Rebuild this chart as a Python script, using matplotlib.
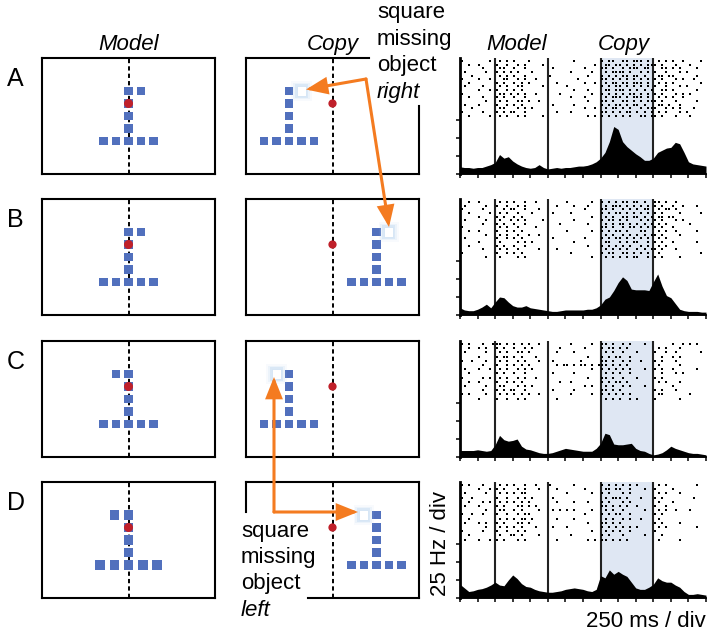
import matplotlib
matplotlib.use("Agg")
import matplotlib.pyplot as plt
from matplotlib.patches import Rectangle, Circle, FancyArrowPatch
import numpy as np

plt.rcParams['font.family'] = ['Liberation Sans', 'DejaVu Sans']

W, H = 714, 635

# ---------------- data ----------------
panel_letters = ["A", "B", "C", "D"]
model_flag_side = [1, 1, -1, -1]        # side of the extra top square in the model
copy_offset = [-3.5, 3.5, -3.5, 3.5]    # position of the copied object (grid units)
stem_rows = [0, 1, 2, 3]
base_cols = [-2, -1, 0, 1, 2]
base_row = 4
fix_row = 1

event_divs = [2, 5, 8, 11]
copy_window = [8, 11]
ytick_hz = [0, 25, 50, 75]

# firing rate (Hz), one value every 0.25 div (62.5 ms), 0..14 div
psth_A = [10, 9, 9, 8, 9, 9, 11, 13, 16, 27, 22, 24, 18, 14, 11, 9,
          8, 9, 13, 9, 7, 8, 9, 8, 9, 9, 10, 11, 11, 12, 14, 17,
          22, 30, 45, 66, 62, 45, 38, 33, 28, 24, 19, 19, 22, 30, 33, 36,
          37, 44, 42, 30, 17, 14, 13, 12, 11]
psth_B = [10, 7, 6, 6, 8, 11, 15, 10, 18, 25, 24, 18, 13, 11, 11, 13,
          10, 9, 8, 7, 6, 5, 5, 6, 7, 7, 7, 7, 7, 8, 8, 10,
          14, 22, 25, 34, 45, 53, 48, 36, 35, 35, 35, 34, 46, 57, 40, 27,
          24, 16, 8, 6, 5, 5, 5, 4, 4]
psth_C = [9, 9, 9, 9, 10, 9, 8, 9, 17, 30, 24, 22, 23, 25, 15, 11,
          10, 8, 6, 5, 5, 6, 8, 10, 12, 11, 10, 9, 8, 8, 8, 12,
          19, 33, 31, 18, 17, 17, 18, 19, 12, 9, 8, 5, 3, 4, 6, 10,
          15, 12, 10, 8, 6, 5, 5, 4, 3]
psth_D = [19, 14, 9, 10, 12, 13, 15, 18, 22, 18, 17, 25, 32, 27, 20, 16,
          15, 12, 10, 9, 8, 8, 9, 10, 12, 13, 14, 13, 12, 10, 9, 12,
          31, 28, 39, 33, 37, 33, 30, 22, 14, 12, 12, 15, 19, 28, 24, 22,
          22, 18, 15, 9, 5, 5, 6, 5, 4]

# spike rasters: one string per trial, 5 bins of 50 ms per div, 'x' = spike
raster_A = [
    "x.... ...x. .x.x. x...x ..... ..... ..x.. ..... x.xx. .xx.x xx.x. .x.x. x..x. ...x.",
    "..x.. x.... x..x. .x.x. ...x. ..... ..... ...x. .xx.x x.x.x .x.xx x.x.. .x... x....",
    "..... .x... .xx.. x..x. ..... .x... ..... x.... xx.x. .x.xx x.xx. ..xx. x.x.. ..x..",
    ".x... ..x.. x.x.x .x... x.... ..... .x... ..x.. .x.xx xx.x. .x.x. x..x. ..x.x .....",
    "...x. ..... .x.x. x..x. ..... x.... ..... .x... x.x.x .xx.x x.x.. .xx.x x.... ..x..",
    "x.... x..x. ..xx. .x.x. .x... ..... ...x. ..... xx.x. x.x.x .x.x. x.x.. .x.x. .x...",
    "..x.. ..... x.x.. x.x.x ..... ..x.. ..... x..x. .x.xx .xx.x xx.x. .x.x. x.... ...x.",
    ".x... .x... .x.x. .xx.. ...x. ..... x.... ..... x.x.x x.x.x .x.x. x..x. ..x.x .....",
    "..... x..x. x..x. x.x.. ..... ..... ..x.. .x... .xx.x xx.x. x.x.x ..xx. x.... ..x..",
    "x.... ..... .xx.x .x.x. .x... ...x. ..... ..x.. x.x.x .x.xx .x.x. x.x.. .x.x. x....",
    "..x.. .x... x.x.. x..x. ..... ..... .x... x.... .x.xx x.x.x xx.x. .x.x. x..x. .....",
    "..... ..x.. .x.x. .xx.x ..x.. ..... ..... .x... xx.x. .xx.x .x.xx x.x.. .x... ..x..",
    ".x... x.... x..x. x.x.. ..... .x... ..x.. ..... x.x.x x.x.x x.x.. .xx.x ..x.. .....",
    "...x. ..... .xx.. .x.x. x.... ..... ..... x..x. .x.xx .x.x. .x.xx x..x. x.x.. .x...",
    "x.... .x... x.x.x x..x. ..... ..x.. .x... ..... xx.x. x.xx. x.x.x .x.x. ..x.x .....",
    "..x.. ...x. .x.x. .x.x. ...x. ..... ..... .x.x. x.x.x .x.x. .xx.x x.x.. .x... x....",
]
raster_B = [
    "..x.. x.... .x.x. x..x. .x... ..... x.... ..x.. x.x.x .xx.x x.x.. xx.x. .x... .....",
    ".x... ..x.. x..x. .x.x. ..... ..x.. ..x.. .x... .x.xx x.x.x .x.x. x.x.. x..x. ..x..",
    "x.... .x... ..x.x x..x. ..x.. ..... ..... x.... xx.x. .x.x. x.xx. .x.xx .x... .....",
    "..x.. ...x. .x.x. .x... x.... .x... .x... ..... x.x.x x.x.x .x.x. x.x.. ..x.. ...x.",
    "..... x.... x.x.. x.x.. ..... ..... ..... ..x.. .x.x. .xx.x x.x.x .xx.x x.... .....",
    ".x... ..x.. .x..x .x.x. ...x. ..... ..x.. ..... x.xx. x.x.. .x.x. x.x.. .x.x. .....",
    "..... .x... x.x.. x..x. ..... ...x. ..... .x... .x.x. xx.x. x.x.x .x.x. ..... x....",
    "x.... ..... .x.x. .x... .x... ..... ..... ..... xx.x. .x.xx .x.x. x.x.. x.... .....",
    "..x.. x.... x..x. x.x.. ..... ..... x.... ..x.. x.x.x x.x.. .xx.. .x.x. .x... ..x..",
    "..... ..x.. .x.x. .x..x ..x.. ..... ..... ..... .x.x. .x.x. x.x.x x.x.. ..x.. .....",
    ".x... ..... x..x. x.x.. ..... .x... ..... x.... x.x.x x.x.x .x.x. .x.x. ..... .....",
    "..... x.... .x... .x.x. x.... ..... ..x.. ..... .xx.. x.x.x x..x. x.x.. x.... ..x..",
    "..x.. ..... x.x.. x..x. ..... ..... ..... .x... x.x.x .x.x. .x.x. .x.x. ..... .....",
    "..... .x... .x.x. .x... ..x.. ..x.. ..... ..... .x.x. x.x.. x.x.x x.x.. .x... .....",
    "x.... ..... x..x. x.x.. ..... ..... .x... ..... x.xx. .xx.x .x.x. .x... ..... ...x.",
    "..... ..x.. .x... .x.x. ..... ..... ..... ..x.. .x.x. x.x.x x..x. x.x.. ..x.. .....",
]
raster_C = [
    "x.x.. .x..x xx.x. x.x.x ..x.. ..... .x... ..x.. xx.x. .x.x. ..x.. ..... x..x. x.x..",
    "..x.. x.x.. x.x.. x..x. x.... ...x. ..... x.... x.xx. x.x.. ..... .x.x. ..x.. .....",
    ".x... ..x.. .x.x. .xx.x ..... ..x.. ..x.. ..... .x.x. .x... x.... x..x. .x... ...x.",
    "..... x.... x.xx. x.x.. .x... ..... ..... .x... x.x.x x..x. ..... ..x.. x.x.. .....",
    "x..x. ..x.. .x.x. .x.x. ..x.. .x... ....x ..... xx.x. .x.x. .x... x.x.. .x... .....",
    "..... .x... x..x. x.x.x ..... ..x.x x.x.x x.x.x xx.x. x.x.. ..... .x... ..x.. .....",
    ".x... x..x. .x.x. .x.x. x.... ..... ..... ..x.. x.x.x .x.x. ..x.. x.x.. x.... ..x..",
    "..x.. ..... x.x.. x..x. ..... .x... ..x.. ..... .x.x. x..x. ..... ..x.. .x.x. .....",
    "x.... .x.x. .x.x. .x.x. .x... ..... ..... .x... xx.x. .x... x.... x.x.. ..... .....",
    "..x.. x.... x..x. x.x.. ..... ...x. .x... ..... x.x.x x.x.. ..... .x.x. ..x.. .....",
    ".x... ..x.. .xx.. .x.x. x.... ..... ..... x.x.. .x.x. .x.x. ..x.. ..... x.... .....",
    "..... .x... x.x.x x..x. ..... .x... ..x.. ..... xx.x. x.... ..... x.x.. .x... .....",
    "x.x.. ..x.. .x.x. x.x.x ..x.. ..... .x... ..x.. x.x.x .x.x. ..... .xx.. ..... x....",
    "..... x.... x..x. .x.x. ..... ..x.. ..... ..... .x.x. x..x. x.... x.... ..x.. .....",
]
raster_D = [
    "x.x.. .x... .x.x. x..x. .x... x.... ..x.. ..... x.x.x .x.x. x.... .x.x. ..... ..x..",
    "..... x..x. x.x.. .x.x. ..x.. ..x.. ..... x.... .xx.x x..x. ..x.. x.... x.... .....",
    ".x... ..x.. .x.x. x.xx. ..... ..... x.... ..x.. x.x.. .x.x. ..... .x.x. ..x.. .....",
    "x..x. ..... x..x. .x.x. x.... .x... ..... ..... .x.xx x.x.. .x... x.x.. ..... .x...",
    "..x.. .x.x. .x.x. x.x.x ..... ..x.. ..x.. .x... x.x.. .x.x. ..... .x... x.... .....",
    ".x... x.... x.x.. .xx.x .x... ..... ..... ..... xx.x. x.x.. x.... x..x. ..... .....",
    "..... ..x.. .xx.. x.x.. ..x.. .x.x. x.x.. ..x.. .x.x. .x... ..x.. .x.x. .x... x....",
    "x..x. .x... x..x. .x.xx ..... ..... ..... x.... x.x.x x..x. ..... x.x.. ..... .....",
    "..x.. ..... .x.x. x.xx. x.... ..x.. ..x.. ..... .x.x. .x.x. .x... .x... ..... .....",
    ".x... x.x.. x.x.. .xx.x ..... ..... ..... .x... xx.x. x.... ..... x.x.. ..x.. .....",
    "..... ..x.. .x.x. x.x.. .x... .x... x.... ..... x.x.x .x.x. x.... .x.x. ..... ..x..",
    "x.... .x... x..x. .x.x. ..... ..... ..... ..x.. .x.x. x..x. ..... x.... ..... .....",
    "..x.. ..... .x..x x.x.. ..x.. ..... .x... ..... x.x.. .x... ..x.. ..x.. ..... .....",
    ".x... x..x. x.x.. .x.x. ..... ..x.. ..... .x.x. xx.x. x.x.. ..... .x... ..x.. .....",
]

psths = [psth_A, psth_B, psth_C, psth_D]
rasters = [raster_A, raster_B, raster_C, raster_D]

# ---------------- style ----------------
blue = "#5170bd"
red = "#c0202a"
orange = "#f47b20"
shade = "#dfe7f3"
fs = 16

fig = plt.figure(figsize=(W / 100, H / 100), dpi=100)


def px_axes(x0, top, w, h):
    return fig.add_axes([x0 / W, 1 - (top + h) / H, w / W, h / H])


tops = [58, 199, 341, 482]
box_h = 116
box_w = 173
model_x0, copy_x0 = 42, 246
unit = 12.5  # px per grid step
sq = 0.68


def setup_box(ax):
    ax.set_xlim(-box_w / 2 / unit, box_w / 2 / unit)
    ax.set_ylim((box_h - 33) / unit, -33 / unit)
    ax.axis("off")
    ax.axvline(0, color="black", lw=1.4, ls=(0, (2.2, 1.6)), zorder=1)


def frame(ax, segs):
    for (x0, y0), (x1, y1) in segs:
        ax.plot([x0, x1], [y0, y1], color="black", lw=1.5, transform=ax.transAxes,
                clip_on=False, solid_capstyle="projecting", zorder=5)


def square(ax, x, y, size, **kw):
    ax.add_patch(Rectangle((x - size / 2, y - size / 2), size, size, lw=0, zorder=3, **kw))


def missing(ax, x, y, size):
    for pad, a in [(0.45, 0.08), (0.3, 0.14), (0.16, 0.25)]:
        ax.add_patch(Rectangle((x - size / 2 - pad, y - size / 2 - pad), size + 2 * pad,
                               size + 2 * pad, fc="#a8cbee", ec="none", alpha=a, zorder=3))
    ax.add_patch(Rectangle((x - size / 2, y - size / 2), size, size, fc="white",
                           ec="#d3e4f5", lw=0.6, zorder=4))


full = [((0, 0), (1, 0)), ((1, 0), (1, 1)), ((1, 1), (0, 1)), ((0, 1), (0, 0))]

for i in range(4):
    side = model_flag_side[i]
    # model screen
    ax = px_axes(model_x0, tops[i], box_w, box_h)
    setup_box(ax)
    sx = 1.14 if i == 3 else 1.0
    s = 0.76 if i == 3 else sq
    for r in stem_rows:
        square(ax, 0, r, s, color=blue)
    for c in base_cols:
        square(ax, c * sx, base_row, s, color=blue)
    square(ax, side * sx, 0, s, color=blue)
    ax.add_patch(Circle((0, fix_row), 0.36, color=red, zorder=4, lw=0))
    frame(ax, full)

    # copy screen
    ax = px_axes(copy_x0, tops[i], box_w, box_h)
    setup_box(ax)
    cx = copy_offset[i]
    for r in stem_rows:
        square(ax, cx, r, sq, color=blue)
    for c in base_cols:
        square(ax, cx + c, base_row, sq, color=blue)
    missing(ax, cx + side, 0, 0.74)
    ax.add_patch(Circle((0, fix_row), 0.33, color=red, zorder=4, lw=0))
    if i == 0:
        frame(ax, [((0, 0), (1, 0)), ((1, 0), (1, 0.586)), ((0.711, 1), (0, 1)), ((0, 1), (0, 0))])
    elif i == 3:
        frame(ax, [((0.358, 0), (1, 0)), ((1, 0), (1, 1)), ((1, 1), (0, 1)), ((0, 1), (0, 0.74))])
    else:
        frame(ax, full)

    # raster + PSTH
    ax = px_axes(460, tops[i], 246, box_h)
    ax.set_xlim(0, 14)
    ax.set_ylim(0, box_h / 18 * 25)
    ax.axvspan(copy_window[0], copy_window[1], color=shade, lw=0, zorder=0)
    for e in event_divs:
        ax.axvline(e, color="#222222", lw=1.5, zorder=1)
    px = np.linspace(0, 14, len(psths[i]))
    ax.fill_between(px, 0, psths[i], color="black", lw=0, zorder=3)
    rows = rasters[i]
    ys = np.linspace(157, 81, len(rows))
    for y, row in zip(ys, rows):
        bins = row.replace(" ", "")
        xs = [(k + 0.5) * 0.2 for k, ch in enumerate(bins) if ch == "x"]
        ax.plot(xs, [y] * len(xs), ls="none", marker="s", ms=1.9, mew=0, color="black", zorder=4)
    for sp in ["top", "right"]:
        ax.spines[sp].set_visible(False)
    ax.spines["left"].set_linewidth(2.0)
    ax.spines["bottom"].set_linewidth(1.3)
    ax.set_xticks(range(15))
    ax.set_yticks(ytick_hz)
    ax.set_xticklabels([])
    ax.set_yticklabels([])
    ax.tick_params(direction="out", length=3, width=1.1)
    ax.set_facecolor("none")

# ---------------- overlay: labels and arrows ----------------
ov = fig.add_axes([0, 0, 1, 1])
ov.set_xlim(0, W)
ov.set_ylim(H, 0)
ov.axis("off")
ov.set_zorder(10)
ov.patch.set_visible(False)

for i, lab in enumerate(panel_letters):
    ov.text(7, tops[i] + 28, lab, fontsize=18, ha="left", va="baseline")

for x, t in [(128.5, "Model"), (332.5, "Copy"), (517, "Model"), (624, "Copy")]:
    ov.text(x, 50, t, fontsize=fs, style="italic", ha="center", va="baseline")

for y, t, it in zip([18, 44.7, 71.3, 98], ["square", "missing", "object", "right"],
                    [False, False, False, True]):
    ov.text(377, y, t, fontsize=fs, style="italic" if it else "normal", ha="left", va="baseline")
for y, t, it in zip([536.7, 563, 589.5, 616], ["square", "missing", "object", "left"],
                    [False, False, False, True]):
    ov.text(241, y, t, fontsize=fs, style="italic" if it else "normal", ha="left", va="baseline")

ov.text(440, 543, "25 Hz / div", fontsize=fs, rotation=90, ha="center", va="center")
ov.text(706, 627, "250 ms / div", fontsize=fs, ha="right", va="baseline")

astyle = "-|>,head_length=12,head_width=4.8"
for a, b in [((366, 79), (306, 89.5)), ((366, 79), (389, 227)),
             ((274, 512), (274, 377)), ((274, 512), (358, 512))]:
    ov.add_patch(FancyArrowPatch(a, b, arrowstyle=astyle, mutation_scale=1, lw=2.2,
                                 color=orange, shrinkA=0, shrinkB=0, joinstyle="miter"))

fig.savefig("out.png", dpi=100)
